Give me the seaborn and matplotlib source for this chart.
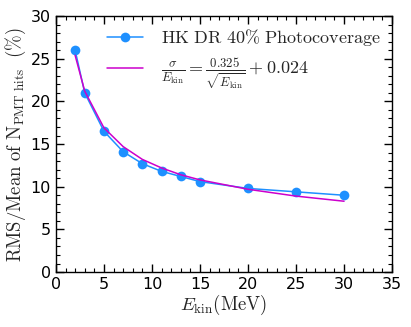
import matplotlib
matplotlib.use("Agg")
import matplotlib.pyplot as plt
from matplotlib.ticker import MultipleLocator
import seaborn as sns
import pandas as pd

energy = [2, 3, 5, 7, 9, 11, 13, 15, 20, 25, 30]
rms_mean = [26.0, 21.0, 16.5, 14.1, 12.7, 11.8, 11.2, 10.6, 9.8, 9.4, 9.0]
fit_vals = [25.4, 21.2, 16.9, 14.7, 13.2, 12.2, 11.4, 10.8, 9.7, 8.9, 8.3]

df = pd.DataFrame({"E": energy, "rms": rms_mean, "fit": fit_vals})

sns.set_style("ticks", {"axes.edgecolor": "black", "xtick.color": "black", "ytick.color": "black"})
plt.rcParams["mathtext.fontset"] = "cm"
plt.rcParams["font.family"] = ["DejaVu Sans"]

fig = plt.figure(figsize=(4.11, 3.27), dpi=100)
ax = fig.add_axes([0.136, 0.168, 0.818, 0.783])

sns.lineplot(data=df, x="E", y="rms", ax=ax, color="#1e90ff", marker="o",
             markersize=7, markeredgewidth=0, linewidth=1.1,
             label=r"$\mathrm{HK\ DR\ 40\%\ Photocoverage}$")
sns.lineplot(data=df, x="E", y="fit", ax=ax, color="#cc00cc", linewidth=1.1,
             label=r"$\frac{\sigma}{E_{\mathrm{kin}}}=\frac{0.325}{\sqrt{E_{\mathrm{kin}}}}+0.024$")

ax.set_xlim(0, 35)
ax.set_ylim(0, 30)
ax.xaxis.set_major_locator(MultipleLocator(5))
ax.xaxis.set_minor_locator(MultipleLocator(1))
ax.yaxis.set_major_locator(MultipleLocator(5))
ax.yaxis.set_minor_locator(MultipleLocator(1))
ax.tick_params(which="both", direction="in", top=True, right=True, labelsize=11.5,
               colors="black")
ax.tick_params(which="major", length=6, width=1)
ax.tick_params(which="minor", length=3, width=0.8)
for s in ax.spines.values():
    s.set_linewidth(1)

ax.set_xlabel(r"$E_{\mathrm{kin}}(\mathrm{MeV})$", fontsize=13.5, labelpad=1)
ax.set_ylabel(r"$\mathrm{RMS/Mean\ of\ N_{PMT\ hits}}\ \ (\%)$", fontsize=13.5, labelpad=2)

ax.legend(loc="upper right", frameon=False, fontsize=13, handlelength=2.0,
          borderaxespad=0.2, labelspacing=0.5, handletextpad=1.0)

fig.savefig("out.png", dpi=100)
